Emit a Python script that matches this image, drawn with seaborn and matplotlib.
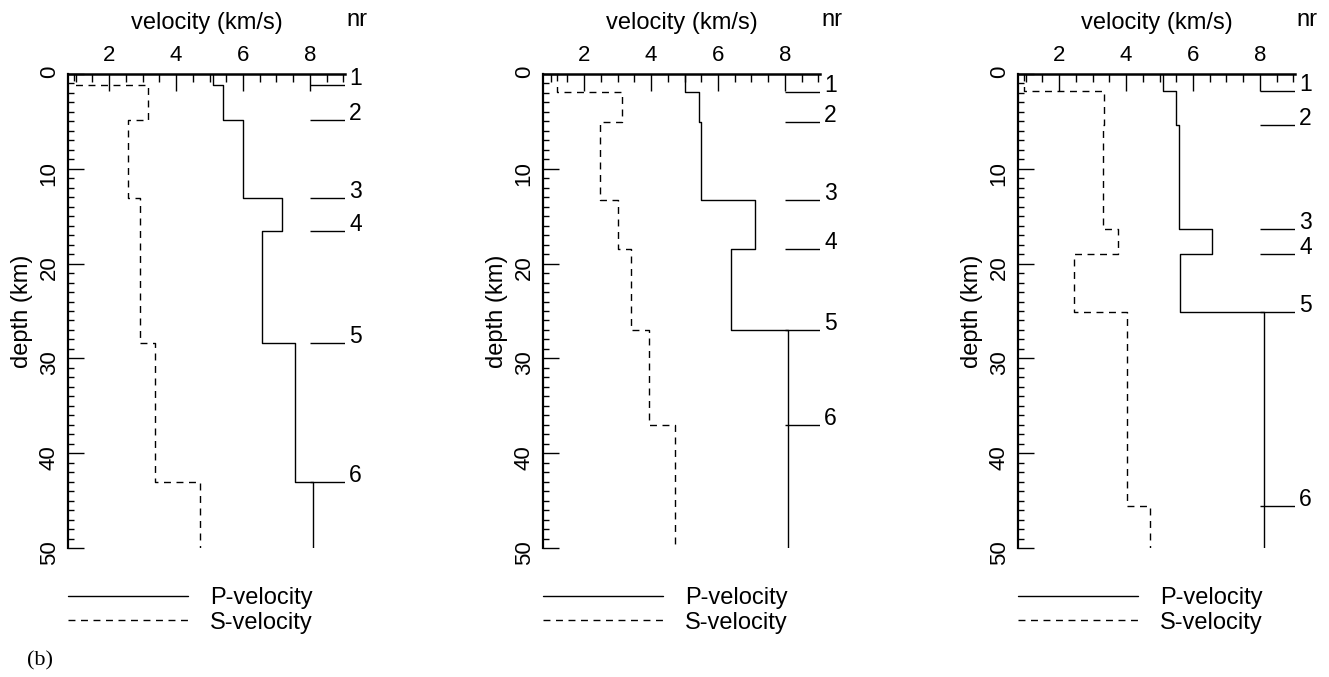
import matplotlib
matplotlib.use("Agg")
import matplotlib.pyplot as plt
import numpy as np
import pandas as pd
import seaborn as sns
from matplotlib.lines import Line2D
from matplotlib.ticker import MultipleLocator

# Layer boundary depths (km) and layer velocities (km/s) for the three models
bounds_a = [1.2, 4.8, 13.1, 16.6, 28.4, 43.0]
vp_a = [5.10, 5.40, 6.00, 7.17, 6.56, 7.55, 8.10]
vs_a = [0.95, 3.16, 2.55, 2.92, 2.92, 3.36, 4.72]

bounds_b = [1.9, 5.05, 13.3, 18.5, 27.0, 37.0]
vp_b = [5.00, 5.43, 5.50, 7.10, 6.40, 8.10, 8.10]
vs_b = [1.20, 3.14, 2.47, 3.00, 3.39, 3.94, 4.72]

bounds_c = [1.8, 5.4, 16.3, 19.0, 25.1, 45.6]
vp_c = [5.10, 5.48, 5.58, 6.57, 5.62, 8.13, 8.13]
vs_c = [0.95, 3.35, 3.30, 3.76, 2.44, 4.03, 4.72]

layer_numbers = ["1", "2", "3", "4", "5", "6"]
wave_names = ["P-velocity", "S-velocity"]
velocity_ticks = [2, 4, 6, 8]
depth_ticks = [0, 10, 20, 30, 40, 50]
max_depth = 50
vel_min, vel_max = 0.77, 9.05
marker_start = 8

sns.set_theme(style="ticks", rc={
    "axes.edgecolor": "black", "xtick.color": "black", "ytick.color": "black",
    "text.color": "black", "axes.labelcolor": "black",
})
plt.rcParams["font.family"] = ["Liberation Sans", "DejaVu Sans"]


def step_profile(bounds, vel, wave):
    """Turn layer velocities into a staircase of (velocity, depth) vertices."""
    depth = [0.0]
    v = [vel[0]]
    for b, v0, v1 in zip(bounds, vel[:-1], vel[1:]):
        depth += [b, b]
        v += [v0, v1]
    depth.append(max_depth)
    v.append(vel[-1])
    return pd.DataFrame({"velocity": v, "depth": depth, "wave": wave})


fig = plt.figure(figsize=(13.29, 6.77), dpi=100)
W, H = 1329, 677
lefts = [68, 543, 1018]
ax_w, top, bottom = 277, 74, 548

models = [(bounds_a, vp_a, vs_a), (bounds_b, vp_b, vs_b), (bounds_c, vp_c, vs_c)]
dash = (0, (5, 4))

for left, (bounds, vp, vs) in zip(lefts, models):
    ax = fig.add_axes([left / W, 1 - bottom / H, ax_w / W, (bottom - top) / H])
    df = pd.concat([step_profile(bounds, vp, wave_names[0]),
                    step_profile(bounds, vs, wave_names[1])], ignore_index=True)
    sns.lineplot(data=df, x="velocity", y="depth", style="wave",
                 dashes={wave_names[0]: "", wave_names[1]: (5, 4)},
                 color="black", linewidth=1.0, sort=False, estimator=None,
                 legend=False, ax=ax)

    # layer boundary markers with their numbers
    ax.hlines(bounds, marker_start, vel_max, color="black", linewidth=1.0)
    for num, d in zip(layer_numbers, bounds):
        ax.annotate(num, xy=(vel_max, d), xycoords="data", xytext=(3, 0),
                    textcoords="offset points", ha="left", va="baseline",
                    fontsize=16.5, annotation_clip=False)

    ax.set_xlim(vel_min, vel_max)
    ax.set_ylim(max_depth, 0)
    ax.xaxis.tick_top()
    ax.xaxis.set_label_position("top")
    ax.set_xticks(velocity_ticks)
    ax.set_xticklabels([str(t) for t in velocity_ticks])
    ax.xaxis.set_minor_locator(MultipleLocator(0.5))
    ax.set_yticks(depth_ticks)
    ax.set_yticklabels([str(t) for t in depth_ticks])
    ax.yaxis.set_minor_locator(MultipleLocator(1))

    ax.tick_params(which="both", direction="in", width=1.0, color="black",
                   top=True, bottom=False, left=True, right=False,
                   labeltop=True, labelbottom=False)
    ax.tick_params(axis="x", which="major", length=12, pad=6, labelsize=16)
    ax.tick_params(axis="x", which="minor", length=5.5)
    ax.tick_params(axis="y", which="major", length=11.5, pad=6,
                   labelsize=16, labelrotation=90)
    ax.tick_params(axis="y", which="minor", length=4.3)

    for side in ("right", "bottom"):
        ax.spines[side].set_visible(False)
    ax.spines["top"].set_linewidth(1.8)
    ax.spines["left"].set_linewidth(1.6)

    ax.set_xlabel("velocity (km/s)", fontsize=17, labelpad=11)
    ax.set_ylabel("depth (km)", fontsize=17, labelpad=4)
    ax.text(1.043, (bottom - 20) / (bottom - top), "nr", transform=ax.transAxes,
            ha="center", va="center", fontsize=17)

    handles = [Line2D([], [], color="black", linewidth=1.0),
               Line2D([], [], color="black", linewidth=1.0, linestyle=dash)]
    ax.legend(handles, wave_names, loc="upper left", bbox_to_anchor=(0, -0.082),
              frameon=False, fontsize=17, handlelength=5.1, handletextpad=0.9,
              labelspacing=0.12, borderpad=0, borderaxespad=0)

fig.text(27 / W, 1 - 661 / H, "(b)", family=["Liberation Serif"], fontsize=16,
         ha="left", va="center")

fig.savefig("out.png", dpi=100)
